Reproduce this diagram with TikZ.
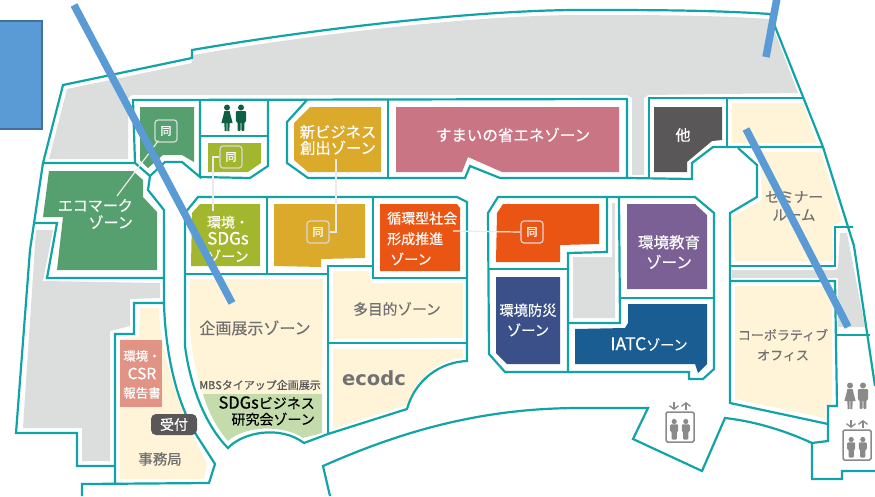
\documentclass[tikz,border=0pt]{standalone}
\usepackage{fontspec}
\setmainfont[RawFeature={embolden=0.45}]{Noto Sans CJK JP}
\newfontfamily\ecofont{DejaVu Sans}
\usetikzlibrary{arrows.meta}
\definecolor{teal1}{HTML}{12A3A6}
\definecolor{greyz}{HTML}{DCDDDD}
\definecolor{cream}{HTML}{FFF4D7}
\definecolor{greenz}{HTML}{55A06E}
\definecolor{olivez}{HTML}{A2B72E}
\definecolor{yellowz}{HTML}{DBAA2A}
\definecolor{pinkz}{HTML}{C97584}
\definecolor{orangez}{HTML}{EB5513}
\definecolor{purplez}{HTML}{7B6095}
\definecolor{navyz}{HTML}{3B5089}
\definecolor{bluez}{HTML}{195D93}
\definecolor{darkz}{HTML}{595757}
\definecolor{sdgz}{HTML}{C4DBAC}
\definecolor{redz}{HTML}{E19485}
\definecolor{txtgrey}{HTML}{727171}
\definecolor{overlay}{HTML}{5B9BD5}
\definecolor{overlayb}{HTML}{41719C}
\definecolor{wcgreen}{HTML}{0F5F45}
\definecolor{icongrey}{HTML}{8A8A8A}
\tikzset{
  wall/.style={draw=teal1,line width=2.2pt,line join=miter},
  ztext/.style={inner sep=0pt,align=center,text=white,font=\fontsize{14.5}{18}\selectfont},
  gtext/.style={ztext,text=txtgrey},
  dou/.style={draw=white!85!black,line width=1.2pt,rounded corners=3pt,minimum width=22pt,minimum height=22pt,inner sep=0pt,text=white,font=\fontsize{11}{12}\selectfont},
  leader/.style={draw=white!92!black,line width=1.2pt},
  slash/.style={draw=overlay,line width=7.5pt}
}
\newcommand{\wcwoman}[3]{\begin{scope}[shift={(#1,#2)}]
 \fill[#3] (0,-10.5) circle (3);
 \fill[#3] (-2.6,-7) -- (2.6,-7) -- (3.8,-2) -- (5.6,5) -- (2.6,5) -- (2.4,13) -- (0.4,13) -- (0.4,5) -- (-0.4,5) -- (-0.4,13) -- (-2.4,13) -- (-2.6,5) -- (-5.6,5) -- (-3.8,-2) -- cycle;
\end{scope}}
\newcommand{\wcman}[3]{\begin{scope}[shift={(#1,#2)}]
 \fill[#3] (0,-10.5) circle (3);
 \fill[#3,rounded corners=1pt] (-5.2,-7) -- (5.2,-7) -- (5.2,4) -- (3.4,4) -- (3.4,13) -- (0.4,13) -- (0.4,4) -- (-0.4,4) -- (-0.4,13) -- (-3.4,13) -- (-3.4,4) -- (-5.2,4) -- cycle;
\end{scope}}
\newcommand{\evperson}[2]{\begin{scope}[shift={(#1,#2)}]
 \fill[icongrey] (0,-7.5) circle (2.6);
 \fill[icongrey,rounded corners=1pt] (-4,-4.6) -- (4,-4.6) -- (4,2.5) -- (2.6,2.5) -- (2.6,10.5) -- (-2.6,10.5) -- (-2.6,2.5) -- (-4,2.5) -- cycle;
\end{scope}}
\newcommand{\elev}[2]{\begin{scope}[shift={(#1,#2)}]
 \draw[icongrey,line width=1.5pt,rounded corners=1.5pt] (-14,-15) rectangle (14,15);
 \evperson{-5.8}{2}
 \evperson{5.8}{2}
 \draw[icongrey,line width=1.3pt,-{Straight Barb[length=3.5pt,width=9pt]}] (-6,-25) -- (-6,-17);
 \draw[icongrey,line width=1.3pt,-{Straight Barb[length=3.5pt,width=9pt]}] (6,-17) -- (6,-25);
\end{scope}}
\begin{document}
\begin{tikzpicture}[x=1pt,y=-1pt]
\useasboundingbox (0,0) rectangle (875,496);
% grey areas
\fill[greyz] (67,89) -- (192,63) -- (193,55) .. controls (320,33) and (480,15) .. (580,15) .. controls (650,15) and (710,15) .. (770,19) -- (798,93) -- (648,95) -- (644,98) -- (644,175) -- (632,175) -- (632,98) -- (627,95) -- (132,95) -- (128,98) -- (128,159) -- (49,159) -- cycle;
\fill[greyz] (36,230) -- (53,230) -- (43,281) -- (160,283) -- (160,298) -- (130,299) -- (130,326) -- (110,331) -- (110,461) -- (82,461) -- (82,428) -- (23,428) -- cycle;
\fill[greyz] (573,257) -- (612,257) -- (612,203) -- (615,203) -- (615,318) -- (573,318) -- cycle;
\fill[greyz] (732,270) -- (835,270) -- (838,268) -- (840,233) -- (847,233) -- (865,327) -- (838,327) -- (838,278) -- (732,278) -- cycle;
% zone fills
\fill[greenz] (140,107) -- (194,107) -- (194,162) -- (182,155) -- (163,155) -- (148,168) -- (140,160) -- cycle;
\fill[greenz] (49,171) -- (133,171) -- (143,180) -- (143,197) -- (157,212) -- (157,270) -- (57,270) -- (63,217) -- (43,217) -- cycle;
\fill[olivez] (208,143) -- (261,143) -- (261,163) -- (248,172) -- (208,172) -- cycle;
\fill[olivez] (192,213) -- (200,204) -- (260,204) -- (260,266) -- (191,266) -- cycle;
\fill[yellowz] (274,204) -- (365,204) -- (365,258) -- (321,259) -- (321,267) -- (274,266) -- cycle;
\fill[yellowz] (310,107) -- (381,107) -- (381,172) -- (308,172) -- (294,160) -- (294,123) -- cycle;
\fill[pinkz] (396,107) -- (619,107) -- (619,172) -- (502,172) -- (468,157) -- (462,172) -- (396,172) -- cycle;
\fill[darkz] (654,107) -- (722,107) -- (722,140) -- (712,141) -- (687,162) -- (687,172) -- (654,172) -- cycle;
\fill[orangez] (380,204) -- (457,204) -- (460,208) -- (460,271) -- (380,271) -- cycle;
\fill[orangez] (497,213) -- (503,204) -- (599,204) -- (599,244) -- (560,245) -- (560,262) -- (496,262) -- cycle;
\fill[purplez] (627,204) -- (695,204) -- (707,215) -- (707,289) -- (627,289) -- cycle;
\fill[navyz] (496,277) -- (560,277) -- (560,364) -- (507,364) -- (496,353) -- cycle;
\fill[bluez] (628,304) -- (707,304) -- (707,364) -- (698,373) -- (695,364) -- (575,364) -- (575,329) -- (625,328) -- (628,323) -- cycle;
% cream rooms
\fill[cream] (732,103) -- (803,103) -- (817,143) -- (732,143) -- cycle;
\fill[cream] (760,152) -- (821,152) -- (842,220) -- (832,227) -- (833,261) -- (735,261) -- (732,217) -- (762,200) -- cycle;
\fill[cream] (735,286) -- (832,286) -- (832,404) -- (826,406) -- (825,418) -- (735,399) -- cycle;
\fill[cream] (190,279) -- (323,279) -- (322,394) -- (203,394) .. controls (196,375) and (190,345) .. (190,320) -- cycle;
\fill[sdgz] (203,394) -- (322,394) -- (322,433) -- (303,438) .. controls (285,425) and (245,425) .. (228,441) .. controls (218,430) and (208,412) .. (203,394) -- cycle;
\fill[cream] (333,271) -- (368,271) -- (372,283) -- (463,283) -- (463,338) -- (333,339) -- cycle;
\fill[cream] (333,349) -- (463,349) -- (463,358) .. controls (438,360) and (416,378) .. (408,403) -- (403,406) -- (333,429) -- cycle;
\fill[cream] (140,308) -- (159,308) .. controls (159,335) and (167,375) .. (193,436) -- (207,464) -- (204,479) -- (120,479) -- (120,339) -- (139,337) -- cycle;
\fill[redz] (120,340) rectangle (162,407);
% walls
\draw[wall] (115,466) -- (77,466) -- (77,433) -- (16,433) -- (30,250) -- (43,163) -- (63,85) -- (192,58) -- (192,50) .. controls (320,28) and (480,10) .. (580,10) .. controls (650,10) and (710,10) .. (770,14) -- (823,147) -- (854,246) -- (875,386);
\draw[wall] (43,163) -- (135,163) -- (150,176) -- (148,190) -- (164,210) -- (164,303);
\draw[wall] (164,278) -- (47,278) -- (57,223) -- (35,223);
\draw[wall] (82,496) -- (82,484) -- (209,483) -- (215,464) -- (197,436) .. controls (172,395) and (165,340) .. (164,303) -- (134,303) -- (134,334) -- (115,334) -- (115,483);
\draw[wall] (135,163) -- (133,100) -- (627,99) -- (627,178) -- (500,178) -- (470,166) -- (465,178) -- (308,178) -- (287,163) -- (287,122) -- (307,100);
\draw[wall] (388,100) -- (388,178);
\draw[wall] (200,100) -- (200,177) -- (182,162) -- (165,162) -- (150,176);
\draw[wall] (200,177) -- (250,178) -- (268,166) -- (268,100);
\draw[wall] (201,136) -- (268,136);
\draw[wall] (185,346) -- (185,213) -- (198,197) -- (457,197) -- (467,202) -- (467,361) .. controls (440,362) and (415,380) .. (407,409) -- (328,434) -- (304,443) .. controls (280,425) and (243,432) .. (228,448) .. controls (205,425) and (190,385) .. (185,346) -- cycle;
\draw[wall] (267,197) -- (267,274);
\draw[wall] (185,274) -- (328,274);
\draw[wall] (328,434) -- (328,266) -- (373,266);
\draw[wall] (373,197) -- (373,278) -- (467,278);
\draw[wall] (328,343) -- (467,343);
\draw[wall] (498,197) -- (488,213) -- (489,354) -- (505,372) -- (689,372) -- (689,379) -- (703,379) -- (714,369) -- (714,213) -- (695,197) -- cycle;
\draw[wall] (489,269) -- (568,269);
\draw[wall] (607,197) -- (607,252) -- (568,253) -- (568,372);
\draw[wall] (619,197) -- (620,323) -- (568,323);
\draw[wall] (620,298) -- (714,298);
\draw[wall] (649,178) -- (649,98) -- (803,98);
\draw[wall] (727,99) -- (727,147);
\draw[wall] (627,178) -- (692,179) -- (692,163) -- (713,147) -- (823,147);
\draw[wall] (738,148) -- (757,165) -- (757,197) -- (730,213) -- (730,403) -- (828,424) -- (828,441) -- (812,443) -- (812,479) -- (842,479) -- (842,471) -- (875,471);
\draw[wall] (730,266) -- (835,266) -- (835,227) -- (853,227);
\draw[wall] (730,281) -- (835,281) -- (837,406) -- (828,406) -- (828,424);
\draw[wall] (837,335) -- (870,335);
\draw[wall] (330,496) -- (323,466) .. controls (400,432) and (480,408) .. (580,408) -- (648,408) -- (633,439) -- (702,471) -- (725,418) .. controls (760,422) and (790,433) .. (812,443);
% badges
\node[dou] (d1) at (166,131) {同};
\node[dou] (d2) at (231,157) {同};
\node[dou] (d3) at (318,232) {同};
\node[dou] (d4) at (532,232) {同};
% leaders
\coordinate (l1) at (117,196);
\coordinate (l2) at (213,211);
\coordinate (l3) at (336,159);
\coordinate (l4) at (453,231);
\draw[leader] (d1.south west) ++(4,-2) -- (l1);
\draw[leader] (d2.west) -- (213,157) -- (l2);
\draw[leader] (d3.east) -- (336,232) -- (l3);
\draw[leader] (d4.west) -- (l4);
% labels
\node[ztext,anchor=east,align=right,font=\fontsize{15}{17}\selectfont] (eco) at (133,214) {エコマーク\\ゾーン};
\node[ztext,font=\fontsize{14}{17}\selectfont] (sdg) at (228,239) {環境・\\{\fontsize{17}{17}\selectfont SDGs}\\ゾーン};
\node[ztext,font=\fontsize{15.3}{16}\selectfont] (biz) at (338,140) {新ビジネス\\創出ゾーン};
\node[ztext,font=\fontsize{15.5}{18}\selectfont] (pink) at (513,135) {すまいの省エネゾーン};
\node[ztext,font=\fontsize{15}{18}\selectfont] (other) at (683,135) {他};
\node[ztext,anchor=west,align=left,font=\fontsize{14}{20.5}\selectfont] (circ) at (387,238.5) {循環型社会\\形成推進\\\ ゾーン};
\node[ztext,font=\fontsize{15.5}{20}\selectfont] (edu) at (669,252) {環境教育\\ゾーン};
\node[ztext,font=\fontsize{14.3}{20}\selectfont] (dis) at (528,320) {環境防災\\ゾーン};
\node[ztext,font=\fontsize{14}{18}\selectfont] (iatc) at (649,344) {{\fontsize{17.5}{18}\selectfont IATC}ゾーン};
\node[gtext,font=\fontsize{14.5}{18}\selectfont] (sem) at (794,206) {セミナー\\ルーム};
\node[gtext,font=\fontsize{13}{20}\selectfont] (corp) at (783,345) {コーポラティブ\\オフィス};
\node[gtext,font=\fontsize{16}{18}\selectfont] (plan) at (255,328) {企画展示ゾーン};
\node[gtext,font=\fontsize{14.7}{18}\selectfont] (multi) at (397,309) {多目的ゾーン};
\node[gtext,font=\fontsize{19.5}{20}\ecofont\bfseries] (ecodc) at (374,378) {ecodc};
\node[ztext,font=\fontsize{12.5}{18.5}\selectfont] (csr) at (142,374.5) {環境・\\{\fontsize{15.5}{18.5}\selectfont CSR}\\報告書};
\node[fill=darkz,rounded corners=5pt,minimum width=46pt,minimum height=21pt,inner sep=0pt,text=white,font=\fontsize{14}{16}\selectfont] (uke) at (174,424.5) {受付};
\node[gtext,font=\fontsize{14.5}{18}\selectfont] (jim) at (160,459) {事務局};
\node[gtext,font=\fontsize{11}{12}\selectfont,text=darkz] (mbs) at (260,385) {MBSタイアップ企画展示};
\node[ztext,text=black,anchor=east,align=right,font=\fontsize{14}{16}\selectfont] (sbz) at (315,411) {{\fontsize{16.5}{16}\selectfont SDGs}ビジネス\\研究会ゾーン};
% icons
\wcwoman{227}{118}{wcgreen}
\wcman{241}{118}{wcgreen}
\wcwoman{850}{396}{icongrey}
\wcman{863}{396}{icongrey}
\elev{680}{427}
\elev{857}{445}
% overlay
\draw[overlayb,line width=1.5pt,fill=overlay] (-3,21) rectangle (42,129);
\draw[slash] (74,5) -- (232,303);
\draw[slash] (777,-2) -- (766,57);
\draw[slash] (746,129) -- (848,327);
\end{tikzpicture}
\end{document}
